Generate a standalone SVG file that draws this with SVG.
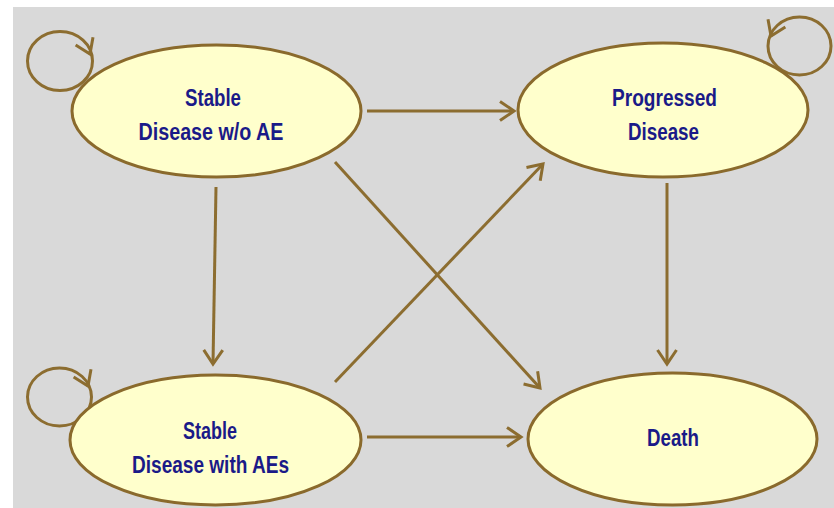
<svg xmlns="http://www.w3.org/2000/svg" width="834" height="508" viewBox="0 0 834 508">
<style>
.node ellipse.body{fill:#ffffcc;stroke:#8a6a2c;stroke-width:3}
.lbl{font-family:"Liberation Sans",Arial,sans-serif;font-weight:bold;font-size:23px;fill:#1a1a88;text-anchor:middle}
.conn{fill:none;stroke:#8c6d30;stroke-width:3}
.loop{fill:none;stroke:#8c6d30;stroke-width:3}
</style>
<defs>
<marker id="arr" markerUnits="userSpaceOnUse" markerWidth="24" markerHeight="24" viewBox="0 0 24 24" refX="18" refY="12" orient="auto">
<path d="M4,2.5 L18,12 L4,21.5" fill="none" stroke="#8c6d30" stroke-width="3" stroke-linejoin="miter"/>
</marker>
</defs>
<rect x="0" y="0" width="834" height="508" fill="#ffffff"/>
<rect x="13" y="7" width="821" height="501" fill="#d9d9d9"/>
<g id="connectors">
<line class="conn" x1="367" y1="111" x2="514" y2="111" marker-end="url(#arr)"/>
<line class="conn" x1="216" y1="187" x2="213" y2="364" marker-end="url(#arr)"/>
<line class="conn" x1="335" y1="162" x2="540" y2="388" marker-end="url(#arr)"/>
<line class="conn" x1="335" y1="382" x2="543" y2="164" marker-end="url(#arr)"/>
<line class="conn" x1="667" y1="183" x2="667" y2="364" marker-end="url(#arr)"/>
<line class="conn" x1="367" y1="437" x2="521" y2="437" marker-end="url(#arr)"/>
<ellipse class="loop" cx="60" cy="61" rx="32.5" ry="29.5"/>
<path class="loop" d="M88.8,51.3 L90,54" marker-end="url(#arr)"/>
<ellipse class="loop" cx="59.5" cy="397" rx="32" ry="29"/>
<path class="loop" d="M86.8,383.3 L88,386" marker-end="url(#arr)"/>
<ellipse class="loop" cx="799.5" cy="46" rx="31.5" ry="29"/>
<path class="loop" d="M772.2,33.3 L771,36" marker-end="url(#arr)"/>
</g>
<g id="node-stable-wo-ae" class="node">
<ellipse class="body" cx="216.5" cy="111" rx="144.5" ry="66"/>
<text class="lbl" x="213" y="106" textLength="56" lengthAdjust="spacingAndGlyphs">Stable</text>
<text class="lbl" x="211" y="140" textLength="145" lengthAdjust="spacingAndGlyphs">Disease w/o AE</text>
</g>
<g id="node-progressed" class="node">
<ellipse class="body" cx="663" cy="110" rx="145" ry="67"/>
<text class="lbl" x="664.5" y="106" textLength="105" lengthAdjust="spacingAndGlyphs">Progressed</text>
<text class="lbl" x="663.5" y="140" textLength="71" lengthAdjust="spacingAndGlyphs">Disease</text>
</g>
<g id="node-stable-with-aes" class="node">
<ellipse class="body" cx="215.5" cy="440" rx="145.5" ry="65"/>
<text class="lbl" x="210" y="439" textLength="54" lengthAdjust="spacingAndGlyphs">Stable</text>
<text class="lbl" x="210.5" y="473" textLength="157" lengthAdjust="spacingAndGlyphs">Disease with AEs</text>
</g>
<g id="node-death" class="node">
<ellipse class="body" cx="672.5" cy="439" rx="144.5" ry="66"/>
<text class="lbl" x="673" y="446" textLength="52" lengthAdjust="spacingAndGlyphs">Death</text>
</g>
</svg>
